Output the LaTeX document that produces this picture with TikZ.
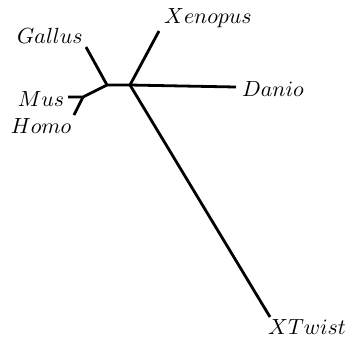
\documentclass[tikz,border=0pt]{standalone}
\begin{document}
\begin{tikzpicture}[x=0.5pt,y=-0.5pt,
  branch/.style={line width=1.4pt,line cap=butt},
  taxon/.style={inner sep=0pt,font=\fontsize{11}{13}\selectfont}]
\useasboundingbox (0,0) rectangle (346,339);
\coordinate (A) at (107,85);
\coordinate (B) at (130,85);
\coordinate (C) at (83,97);
\coordinate (tg) at (86,47);
\coordinate (tx) at (159,31);
\coordinate (td) at (236,87);
\coordinate (tt) at (270,317);
\coordinate (tm) at (68,97);
\coordinate (th) at (74,115);
\node[taxon] (gallus) at (50,36) {$Gallus$};
\node[taxon] (xenopus) at (208,18) {$Xenopus$};
\node[taxon] (danio) at (273,89) {$Danio$};
\node[taxon] (mus) at (41,99) {$Mus$};
\node[taxon] (homo) at (41,126) {$Homo$};
\node[taxon] (xtwist) at (307,327) {$XTwist$};
\draw[branch] (tg) -- (A) -- (B) -- (tx);
\draw[branch] (B) -- (td);
\draw[branch] (B) -- (tt);
\draw[branch] (A) -- (C) -- (tm);
\draw[branch] (C) -- (th);
\end{tikzpicture}
\end{document}
